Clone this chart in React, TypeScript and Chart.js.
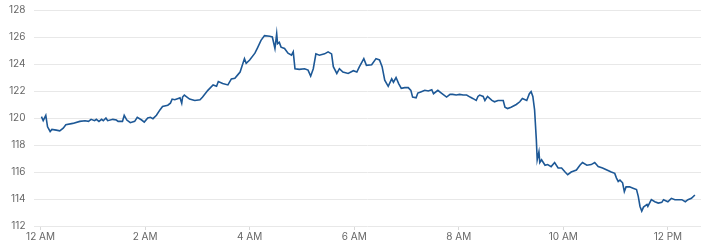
import React, { useEffect, useRef } from 'react';
import { Chart, registerables } from 'chart.js';

Chart.register(...registerables);

// minutes after midnight
const MINUTES = [
  1, 3, 6, 8, 11, 13, 18, 22, 26, 29, 37, 45, 51, 55, 58, 62, 64, 67, 70, 72,
  75, 77, 83, 87, 89, 94, 96, 99, 103, 108, 111, 116, 119, 123, 126, 129, 133, 137, 140, 146,
  149, 151, 154, 158, 160, 162, 163, 165, 171, 177, 183, 186, 192, 198, 202, 204, 209, 215, 219, 223,
  227, 229, 234, 236, 240, 246, 249, 253, 257, 263, 266, 269, 271, 272, 274, 276, 280, 284, 288, 290,
  292, 297, 303, 307, 310, 313, 316, 320, 326, 330, 334, 336, 340, 343, 347, 353, 359, 363, 366, 371,
  374, 380, 385, 389, 392, 395, 399, 403, 405, 408, 411, 414, 418, 422, 425, 427, 431, 433, 437, 441,
  445, 449, 451, 456, 460, 466, 470, 473, 477, 481, 485, 489, 493, 496, 500, 502, 504, 508, 510, 513,
  518, 521, 525, 531, 533, 536, 540, 546, 550, 553, 558, 561, 563, 565, 567, 569, 570, 572, 573, 575,
  579, 582, 586, 590, 594, 598, 602, 605, 609, 615, 619, 622, 627, 632, 636, 640, 645, 650, 655, 659,
  661, 663, 665, 668, 670, 672, 676, 680, 684, 686, 688, 690, 692, 696, 697, 701, 705, 709, 713, 715,
  720, 724, 728, 732, 736, 740, 743, 747, 751,
];

const PRICES = [
  120.1, 119.8, 120.2, 119.35, 119.0, 119.15, 119.1, 119.05, 119.25, 119.5, 119.6, 119.75, 119.8, 119.75, 119.9, 119.8, 119.9, 119.75, 119.9, 119.8,
  120.0, 119.8, 119.9, 119.85, 119.75, 119.75, 120.2, 119.85, 119.65, 119.75, 120.05, 119.85, 119.7, 120.0, 120.05, 119.95, 120.2, 120.6, 120.85, 120.95,
  121.1, 121.4, 121.35, 121.45, 121.5, 121.1, 121.55, 121.7, 121.4, 121.3, 121.35, 121.55, 122.05, 122.45, 122.35, 122.7, 122.55, 122.45, 122.9, 122.95,
  123.25, 123.4, 124.4, 124.05, 124.3, 124.8, 125.2, 125.75, 126.1, 126.05, 126.0, 125.15, 126.25, 125.5, 125.6, 125.25, 125.15, 124.8, 124.65, 124.9,
  123.65, 123.6, 123.65, 123.55, 123.1, 123.65, 124.75, 124.65, 124.75, 124.9, 124.75, 123.8, 123.3, 123.65, 123.4, 123.3, 123.5, 123.4, 123.8, 124.4,
  123.9, 123.95, 124.4, 124.3, 123.8, 122.8, 122.35, 122.9, 122.65, 123.0, 122.55, 122.2, 122.25, 122.25, 122.05, 121.55, 121.5, 121.85, 121.95, 122.05,
  122.0, 122.1, 121.8, 122.05, 121.85, 121.55, 121.75, 121.75, 121.7, 121.75, 121.7, 121.7, 121.55, 121.45, 121.3, 121.6, 121.7, 121.6, 121.3, 121.6,
  121.3, 121.2, 121.3, 121.3, 120.8, 120.7, 120.8, 121.0, 121.2, 121.45, 121.3, 121.8, 121.95, 121.6, 120.6, 118.4, 116.9, 117.5, 116.7, 116.9,
  116.5, 116.55, 116.4, 116.7, 116.3, 116.3, 116.0, 115.8, 116.0, 116.15, 116.5, 116.7, 116.5, 116.55, 116.7, 116.4, 116.3, 116.15, 116.0, 115.9,
  115.55, 115.3, 115.4, 115.2, 114.55, 114.9, 114.9, 114.8, 114.7, 114.2, 113.45, 113.1, 113.4, 113.6, 113.45, 113.95, 113.8, 113.7, 113.75, 113.95,
  113.8, 114.05, 113.95, 113.95, 113.95, 113.8, 113.95, 114.05, 114.3,
];

const TICK_MINUTES = [0, 120, 240, 360, 480, 600, 720];
const TICK_LABELS = ['12 AM', '2 AM', '4 AM', '6 AM', '8 AM', '10 AM', '12 PM'];
const Y_MIN = 112;
const Y_MAX = 128;
const Y_STEP = 2;
const X_MIN = -7;
const X_MAX = 758;

const FONT = { family: 'Inter, "Noto Sans", sans-serif', size: 10 };
const TEXT_COLOR = '#666666';

export default function App() {
  const canvasRef = useRef<HTMLCanvasElement | null>(null);

  useEffect(() => {
    if (!canvasRef.current) return;
    const points = MINUTES.map((m, i) => ({ x: m, y: PRICES[i] }));
    const chart = new Chart(canvasRef.current, {
      type: 'line',
      data: {
        datasets: [
          {
            data: points,
            borderColor: '#1d5896',
            borderWidth: 1.6,
            pointRadius: 0,
            tension: 0,
            fill: false,
          },
        ],
      },
      options: {
        animation: false,
        responsive: true,
        maintainAspectRatio: false,
        layout: { padding: { left: 0, right: 19, top: 10, bottom: 6 } },
        plugins: { legend: { display: false }, tooltip: { enabled: false } },
        scales: {
          x: {
            type: 'linear',
            min: X_MIN,
            max: X_MAX,
            afterBuildTicks: (scale: any) => {
              scale.ticks = TICK_MINUTES.map((v) => ({ value: v }));
            },
            ticks: {
              autoSkip: false,
              maxRotation: 0,
              padding: 1,
              color: TEXT_COLOR,
              font: FONT,
              callback: (v: any) => {
                const i = TICK_MINUTES.indexOf(Number(v));
                return i >= 0 ? TICK_LABELS[i] : '';
              },
            },
            grid: {
              drawOnChartArea: false,
              drawTicks: true,
              tickLength: 4,
              color: '#d9d9d9',
            },
            border: { display: false },
          },
          y: {
            min: Y_MIN,
            max: Y_MAX,
            afterFit: (scale: any) => {
              scale.paddingTop = 0;
              scale.paddingBottom = 0;
            },
            ticks: {
              stepSize: Y_STEP,
              padding: 9,
              color: TEXT_COLOR,
              font: FONT,
            },
            grid: { color: '#e8e8e8', drawTicks: false },
            border: { display: false },
          },
        },
      },
    });
    return () => chart.destroy();
  }, []);

  return (
    <div style={{ position: 'absolute', left: 0, top: 0, width: 720, height: 250 }}>
      <canvas ref={canvasRef} />
    </div>
  );
}
